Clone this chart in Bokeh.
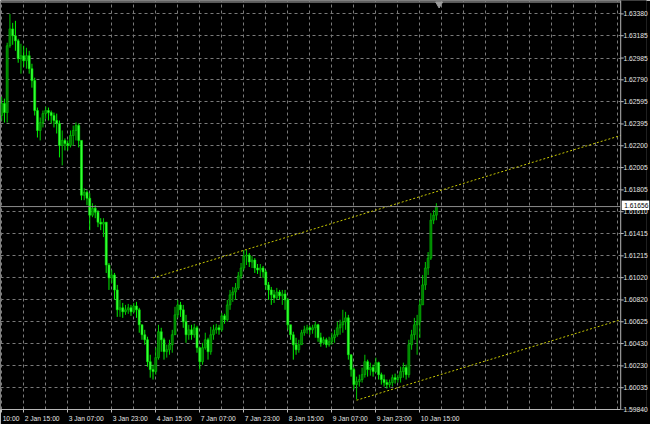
from bokeh.plotting import figure
from bokeh.models import (Range1d, FixedTicker, PrintfTickFormatter, Span,
                          ColumnDataSource, LinearAxis, Grid)
from bokeh.core.properties import value
from bokeh.embed import file_html
from bokeh.resources import INLINE

# Hourly GBP quotes, one entry per bar (bar index = position on the time axis)
first_open = 1.62471
closes = [
    1.62578, 1.62497, 1.63095, 1.63246, 1.63184, 1.63139, 1.62979, 1.63006, 1.62961, 1.63006,
    1.62890, 1.62783, 1.62515, 1.62337, 1.62408, 1.62488, 1.62515, 1.62497, 1.62471, 1.62426,
    1.62399, 1.62203, 1.62248, 1.62221, 1.62203, 1.62292, 1.62337, 1.62381, 1.62248, 1.61757,
    1.61784, 1.61730, 1.61579, 1.61641, 1.61606, 1.61516, 1.61499, 1.61516, 1.61133, 1.61017,
    1.61044, 1.60910, 1.60732, 1.60750, 1.60714, 1.60732, 1.60750, 1.60714, 1.60767, 1.60732,
    1.60598, 1.60509, 1.60464, 1.60268, 1.60197, 1.60179, 1.60304, 1.60536, 1.60464, 1.60357,
    1.60375, 1.60420, 1.60509, 1.60687, 1.60776, 1.60732, 1.60625, 1.60509, 1.60553, 1.60509,
    1.60571, 1.60393, 1.60268, 1.60393, 1.60464, 1.60357, 1.60509, 1.60553, 1.60571, 1.60553,
    1.60678, 1.60643, 1.60776, 1.60866, 1.60892, 1.60928, 1.61035, 1.61106, 1.61213, 1.61222,
    1.61160, 1.61178, 1.61106, 1.61088, 1.61106, 1.61071, 1.60955, 1.60910, 1.60866, 1.60839,
    1.60892, 1.60857, 1.60874, 1.60821, 1.60598, 1.60509, 1.60420, 1.60375, 1.60420, 1.60527,
    1.60553, 1.60571, 1.60553, 1.60571, 1.60598, 1.60482, 1.60437, 1.60464, 1.60420, 1.60446,
    1.60482, 1.60509, 1.60571, 1.60598, 1.60625, 1.60660, 1.60330, 1.60197, 1.60063, 1.60090,
    1.60108, 1.60152, 1.60268, 1.60197, 1.60215, 1.60179, 1.60259, 1.60152, 1.60108, 1.60081,
    1.60063, 1.60081, 1.60125, 1.60108, 1.60125, 1.60179, 1.60215, 1.60152, 1.60420, 1.60509,
    1.60598, 1.60625, 1.60776, 1.60955, 1.61106, 1.61195, 1.61534, 1.61579, 1.61656,
]
highs = [
    1.62640, 1.62622, 1.63122, 1.63380, 1.63300, 1.63318, 1.63157, 1.63113, 1.63095, 1.63077,
    1.63050, 1.62934, 1.62809, 1.62542, 1.62453, 1.62515, 1.62551, 1.62542, 1.62515, 1.62497,
    1.62488, 1.62426, 1.62337, 1.62266, 1.62248, 1.62337, 1.62381, 1.62408, 1.62399, 1.62248,
    1.61820, 1.61802, 1.61775, 1.61686, 1.61668, 1.61623, 1.61552, 1.61552, 1.61516, 1.61151,
    1.61088, 1.61062, 1.60955, 1.60821, 1.60794, 1.60776, 1.60785, 1.60776, 1.60794, 1.60803,
    1.60750, 1.60598, 1.60553, 1.60491, 1.60330, 1.60241, 1.60393, 1.60598, 1.60571, 1.60482,
    1.60420, 1.60464, 1.60553, 1.60759, 1.60821, 1.60803, 1.60776, 1.60687, 1.60598, 1.60598,
    1.60607, 1.60589, 1.60393, 1.60437, 1.60527, 1.60482, 1.60580, 1.60598, 1.60607, 1.60598,
    1.60705, 1.60696, 1.60821, 1.60910, 1.60937, 1.60972, 1.61071, 1.61151, 1.61267, 1.61267,
    1.61240, 1.61213, 1.61195, 1.61142, 1.61142, 1.61124, 1.61088, 1.60981, 1.60937, 1.60910,
    1.60928, 1.60910, 1.60910, 1.60910, 1.60839, 1.60598, 1.60536, 1.60482, 1.60464, 1.60553,
    1.60589, 1.60598, 1.60589, 1.60598, 1.60625, 1.60607, 1.60527, 1.60491, 1.60482, 1.60491,
    1.60527, 1.60553, 1.60625, 1.60643, 1.60732, 1.60714, 1.60687, 1.60330, 1.60215, 1.60134,
    1.60152, 1.60215, 1.60330, 1.60286, 1.60259, 1.60241, 1.60304, 1.60268, 1.60170, 1.60152,
    1.60108, 1.60108, 1.60152, 1.60161, 1.60152, 1.60223, 1.60259, 1.60241, 1.60464, 1.60553,
    1.60660, 1.60687, 1.60821, 1.61044, 1.61160, 1.61249, 1.61597, 1.61623, 1.61686,
]
lows = [
    1.62426, 1.62408, 1.62408, 1.63077, 1.63104, 1.63050, 1.62943, 1.62845, 1.62907, 1.62890,
    1.62845, 1.62720, 1.62471, 1.62274, 1.62248, 1.62364, 1.62444, 1.62426, 1.62399, 1.62364,
    1.62310, 1.62096, 1.62025, 1.62158, 1.62158, 1.62185, 1.62203, 1.62248, 1.62185, 1.61713,
    1.61713, 1.61668, 1.61445, 1.61561, 1.61552, 1.61472, 1.61445, 1.61383, 1.61062, 1.60910,
    1.60972, 1.60821, 1.60669, 1.60669, 1.60660, 1.60687, 1.60696, 1.60678, 1.60705, 1.60660,
    1.60527, 1.60464, 1.60420, 1.60223, 1.60125, 1.60108, 1.60152, 1.60286, 1.60357, 1.60286,
    1.60304, 1.60330, 1.60348, 1.60509, 1.60660, 1.60669, 1.60571, 1.60437, 1.60464, 1.60464,
    1.60482, 1.60348, 1.60197, 1.60241, 1.60375, 1.60286, 1.60330, 1.60464, 1.60518, 1.60509,
    1.60536, 1.60607, 1.60625, 1.60732, 1.60803, 1.60821, 1.60910, 1.61008, 1.61088, 1.61133,
    1.61115, 1.61106, 1.61062, 1.61053, 1.61026, 1.61017, 1.60910, 1.60821, 1.60776, 1.60794,
    1.60821, 1.60821, 1.60776, 1.60732, 1.60553, 1.60464, 1.60286, 1.60330, 1.60348, 1.60420,
    1.60500, 1.60518, 1.60509, 1.60518, 1.60482, 1.60446, 1.60402, 1.60420, 1.60393, 1.60402,
    1.60420, 1.60437, 1.60491, 1.60509, 1.60527, 1.60553, 1.60286, 1.60134, 1.60018, 1.59929,
    1.60045, 1.60081, 1.60125, 1.60134, 1.60143, 1.60134, 1.60170, 1.60108, 1.60063, 1.60045,
    1.60027, 1.60036, 1.60045, 1.60072, 1.60081, 1.60081, 1.60125, 1.60108, 1.60125, 1.60375,
    1.60464, 1.60330, 1.60482, 1.60776, 1.60910, 1.61044, 1.61178, 1.61499, 1.61534,
]

price_ticks = [1.59840, 1.60035, 1.60230, 1.60430, 1.60625, 1.60820, 1.61020, 1.61215,
               1.61415, 1.61610, 1.61805, 1.62005, 1.62200, 1.62395, 1.62595, 1.62790,
               1.62985, 1.63185, 1.63380]
time_tick_bars = [0, 8, 24, 40, 56, 72, 88, 104, 120, 136, 152]
time_tick_labels = ["10:00", "2 Jan 15:00", "3 Jan 07:00", "3 Jan 23:00", "4 Jan 15:00",
                    "7 Jan 07:00", "7 Jan 23:00", "8 Jan 15:00", "9 Jan 07:00",
                    "9 Jan 23:00", "10 Jan 15:00"]
last_price = 1.61656

# channel trend lines (bar index, price); they run to the right edge of the chart
upper_x = [55, 225]
upper_y = [1.61017, 1.62292]
lower_x = [129, 225]
lower_y = [1.59923, 1.60643]

# ---- geometry ---------------------------------------------------------------
PX_PER_BAR = 2.764            # horizontal spacing of bars
FRAME_W = 649                 # drawing area incl. the price scale strip
FRAME_H = 411
x_lo = -0.43
x_edge = 225.0                # right border of the price chart (bar units)
x_hi = x_lo + FRAME_W / PX_PER_BAR
y_lo, y_hi = 1.59840, 1.63500
px_price = (y_hi - y_lo) / FRAME_H
px_bar = 1.0 / PX_PER_BAR

FONT = "Liberation Sans"
FS_PX = 6.7
FS = f"{FS_PX}px"
AX = "#b8b8b8"
GRID = "#7a7a7a"
LABEL_COLOR = "#e6e6e6"

opens = [first_open] + closes[:-1]   # each bar opens at the prior close
idx = list(range(len(closes)))
up = [c >= o for o, c in zip(opens, closes)]
src = ColumnDataSource(dict(
    x=idx, open=opens, close=closes, high=highs, low=lows,
    top=[max(o, c) for o, c in zip(opens, closes)],
    bottom=[min(o, c) for o, c in zip(opens, closes)],
    fill=["#007800" if u else "#3cff3c" for u in up],
    line=["#00c800" if u else "#00f000" for u in up],
))

p = figure(width=650, height=424, output_backend="svg", toolbar_location=None,
           x_range=Range1d(x_lo, x_hi), y_range=Range1d(y_lo, y_hi),
           x_axis_type=None, y_axis_location="right", background_fill_color="#000000",
           border_fill_color="#000000", min_border_left=0, min_border_top=0,
           min_border_right=0, min_border_bottom=0, outline_line_color=None)

# ---- grid -------------------------------------------------------------------
vgrid = Grid(dimension=0, ticker=FixedTicker(ticks=list(range(0, 226, 8))),
             grid_line_color=GRID, grid_line_dash="3 3", grid_line_width=1)
p.add_layout(vgrid)
p.ygrid.grid_line_color = GRID
p.ygrid.grid_line_dash = "3 3"
p.ygrid.grid_line_width = 1

# ---- time axis: tick marks at bar positions, captions left-aligned after them
CHAR_EM = {" ": 0.278, ":": 0.278, "J": 0.5, "a": 0.556, "n": 0.556}


def caption_center(bar, text):
    width_px = sum(CHAR_EM.get(ch, 0.556) for ch in text) * FS_PX
    return bar + (width_px / 2 + 1.0) * px_bar


cap_pos = [caption_center(b, t) for b, t in zip(time_tick_bars, time_tick_labels)]
xa = LinearAxis(ticker=FixedTicker(ticks=cap_pos, minor_ticks=time_tick_bars),
                major_label_overrides={c: t for c, t in zip(cap_pos, time_tick_labels)},
                bounds=(x_lo, x_edge),
                axis_line_color=AX, major_tick_line_color=None,
                minor_tick_line_color=AX, minor_tick_out=3, minor_tick_in=0,
                major_tick_out=3, major_tick_in=0,
                major_label_standoff=2, major_label_text_font=FONT,
                major_label_text_font_size=FS, major_label_text_color=LABEL_COLOR)
p.add_layout(xa, "below")
vgrid.axis = xa

# ---- price axis: labels sit in the strip right of the chart border -----------
ya = p.yaxis[0]
ya.ticker = FixedTicker(ticks=price_ticks)
ya.formatter = PrintfTickFormatter(format="%.5f")
ya.axis_line_color = None
ya.major_tick_line_color = None
ya.minor_tick_line_color = None
ya.major_tick_out = 0
ya.major_tick_in = 0
ya.major_label_standoff = -23
ya.major_label_text_font = FONT
ya.major_label_text_font_size = FS
ya.major_label_text_color = LABEL_COLOR

# ---- candles ----------------------------------------------------------------
p.segment(x0="x", y0="low", x1="x", y1="high", source=src, line_color="line", line_width=1)
p.vbar(x="x", top="top", bottom="bottom", width=0.72, source=src,
       fill_color="fill", line_color="line", line_width=0.6)

# channel lines
p.line(upper_x, upper_y, line_color="#c8c800", line_dash="2 2", line_width=1)
p.line(lower_x, lower_y, line_color="#c8c800", line_dash="2 2", line_width=1)

# current bid line
p.segment(x0=[x_lo], y0=[last_price], x1=[x_edge], y1=[last_price],
          line_color="#8c8c8c", line_width=1)

# price scale strip: blank background, border line and tick marks
p.quad(left=[x_edge], right=[x_hi + 1], bottom=[y_lo - px_price * 20],
       top=[y_hi + px_price * 20], fill_color="#000000", line_color=None)
p.segment(x0=[x_edge] * len(price_ticks), y0=price_ticks,
          x1=[x_edge + 3 * px_bar] * len(price_ticks), y1=price_ticks,
          line_color=AX, line_width=1)
p.add_layout(Span(location=x_edge, dimension="height", line_color=AX, line_width=1))
p.segment(x0=[x_lo], y0=[y_hi - 1.5 * px_price], x1=[x_edge], y1=[y_hi - 1.5 * px_price],
          line_color=AX, line_width=1)

# price tag for the last quote
tag_rect = p.quad(left=[x_edge + 1 * px_bar], right=[x_hi + 1],
                  bottom=[last_price - 3.5 * px_price], top=[last_price + 6.0 * px_price],
                  fill_color="#ffffff", line_color=None)
tag_text = p.text(x=[x_edge + 3.5 * px_bar], y=[last_price + 1.3 * px_price],
                  text=[f"{last_price:.5f}"],
                  text_font=value(FONT), text_font_size=FS, text_color="#000000",
                  text_align="left", text_baseline="middle")
tag_rect.level = "overlay"
tag_text.level = "overlay"

# chart shift marker above the last bar
p.scatter(x=[len(closes)], y=[y_hi - 3.5 * px_price], marker="inverted_triangle",
          size=7, fill_color="#9a9a9a", line_color="#9a9a9a")

open("out.html", "w").write(file_html(p, INLINE))
